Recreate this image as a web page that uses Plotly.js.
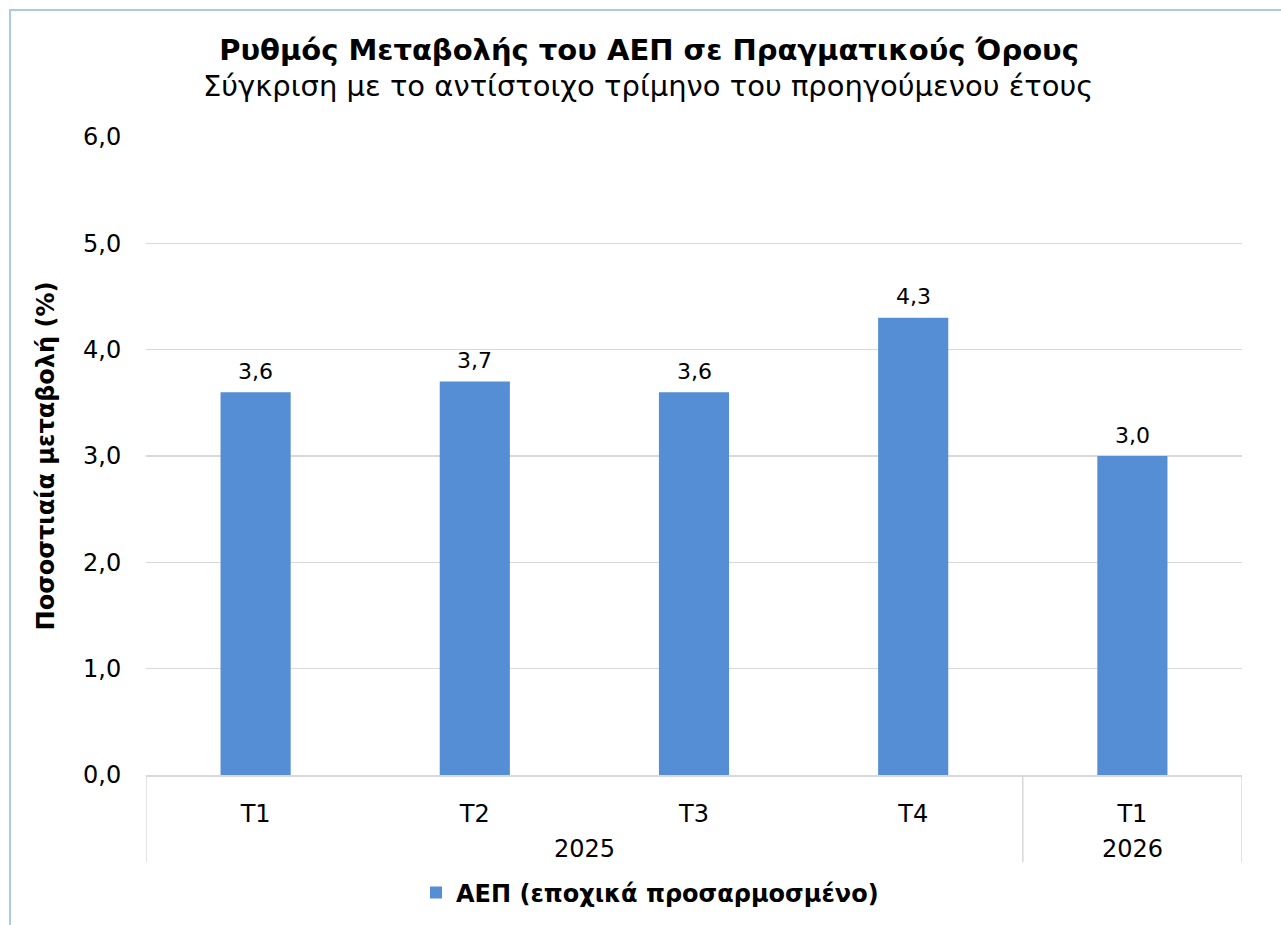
<!DOCTYPE html>
<html>
<head>
<meta charset="utf-8">
<script src="https://cdn.plot.ly/plotly-3.0.1.min.js"></script>
<style>
  html, body { margin: 0; padding: 0; background: #fff; }
  #chart { position: absolute; left: 0; top: 0; width: 1281px; height: 925px; }
  #frame { position: absolute; left: 9px; top: 9px; width: 1400px; height: 1000px;
           border-left: 2px solid #a9c8ee; border-top: 2px solid #a9c8ee; pointer-events: none; }
</style>
</head>
<body>
<div id="chart"></div>
<div id="frame"></div>
<script>
const years = ["2025", "2025", "2025", "2025", "2026"];
const quarters = ["Τ1", "Τ2", "Τ3", "Τ4", "Τ1"];
const values = [3.6, 3.7, 3.6, 4.3, 3.0];
const seriesName = "ΑΕΠ (εποχικά προσαρμοσμένο)";
const titleText = "Ρυθμός Μεταβολής του ΑΕΠ σε Πραγματικούς Όρους";
const subtitleText = "Σύγκριση με το αντίστοιχο τρίμηνο του προηγούμενου έτους";
const yTitle = "Ποσοστιαία μεταβολή (%)";

const FONT = "Verdana, 'DejaVu Sans', sans-serif";
const PLOT_H = 638;
const PLOT_W = 1096;
const GRID = "#d9d9d9";

const idx = quarters.map((_, i) => i);

const trace = {
  type: "bar",
  x: idx,
  y: values,
  name: seriesName,
  marker: { color: "#558ed5" },
  showlegend: true
};

// value labels above bars
const annotations = values.map((v, i) => ({
  x: idx[i], y: v, xref: "x", yref: "y",
  text: v.toFixed(1).replace(".", ","),
  showarrow: false, yanchor: "middle", yshift: 21,
  font: { family: FONT, size: 22, color: "#000" }
}));

// year group labels and dividers
const groups = [];
years.forEach((y, i) => {
  const g = groups[groups.length - 1];
  if (g && g.year === y) g.end = i; else groups.push({ year: y, start: i, end: i });
});
groups.forEach(g => {
  annotations.push({
    x: (g.start + g.end) / 2, y: 0, xref: "x", yref: "paper",
    text: g.year, showarrow: false, yanchor: "middle", yshift: -74,
    font: { family: FONT, size: 24, color: "#000" }
  });
});
const boundaries = [groups[0].start - 0.5].concat(groups.map(g => g.end + 0.5));
const shapes = boundaries.map(b => ({
  type: "line", xref: "x", yref: "paper",
  x0: b, x1: b, y0: 0, y1: -87 / PLOT_H,
  line: { color: GRID, width: 1.5 }
}));

annotations.push({
  text: subtitleText,
  xref: "paper", yref: "paper",
  x: (648 - 146) / PLOT_W, y: 1 + (137 - 86) / PLOT_H,
  xanchor: "center", yanchor: "middle",
  showarrow: false,
  font: { family: FONT, size: 29, color: "#000" }
});

const layout = {
  width: 1281,
  height: 925,
  margin: { l: 146, r: 39, t: 137, b: 150 },
  paper_bgcolor: "#fff",
  plot_bgcolor: "#fff",
  separators: ",.",
  font: { family: FONT, size: 24, color: "#000" },
  bargap: 0.68,
  title: {
    text: "<b>" + titleText + "</b>",
    font: { family: FONT, size: 29, color: "#000" },
    xref: "container", x: 649 / 1281, xanchor: "center",
    yref: "container", y: 1 - 50 / 925, yanchor: "middle"
  },
  annotations: annotations,
  shapes: shapes,
  xaxis: {
    range: [-0.5, quarters.length - 0.5],
    tickmode: "array", tickvals: idx, ticktext: quarters,
    showline: true, linecolor: GRID, linewidth: 1.5,
    tickfont: { family: FONT, size: 24, color: "#000" },
    ticks: "outside", ticklen: 17, tickcolor: "rgba(0,0,0,0)",
    showgrid: false, zeroline: false
  },
  yaxis: {
    range: [0, 6],
    dtick: 1,
    tickformat: ".1f",
    showgrid: true, gridcolor: GRID, gridwidth: 1.5,
    zeroline: false, showline: false,
    ticks: "outside", ticklen: 19, tickcolor: "rgba(0,0,0,0)",
    tickfont: { family: FONT, size: 24, color: "#000" },
    title: { text: "<b>" + yTitle + "</b>", font: { family: FONT, size: 24, color: "#000" }, standoff: 21 }
  },
  showlegend: true,
  legend: {
    orientation: "h",
    xref: "container", yref: "container",
    x: 650 / 1281, xanchor: "center",
    y: 1 - 893 / 925, yanchor: "middle",
    font: { family: FONT, size: 24, color: "#000", weight: "bold" },
    itemsizing: "constant"
  }
};

Plotly.newPlot("chart", [trace], layout, { displayModeBar: false, staticPlot: true });
</script>
</body>
</html>
